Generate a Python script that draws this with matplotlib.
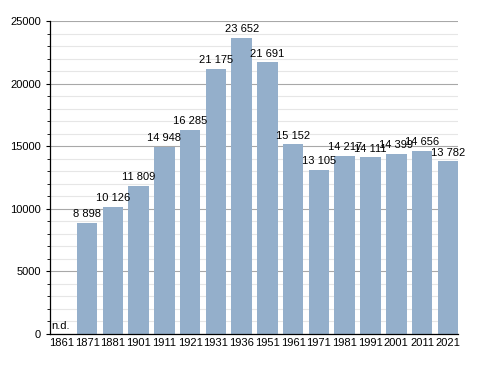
import matplotlib.pyplot as plt
from matplotlib.ticker import MultipleLocator

plt.rcParams['font.family'] = ['Liberation Sans', 'DejaVu Sans']

# Dữ liệu dân số
nam = ['1861', '1871', '1881', '1901', '1911', '1921', '1931', '1936', '1951',
       '1961', '1971', '1981', '1991', '2001', '2011', '2021']
dan_so = [None, 8898, 10126, 11809, 14948, 16285, 21175, 23652, 21691,
          15152, 13105, 14217, 14111, 14399, 14656, 13782]

fig = plt.figure(figsize=(4.88, 3.73), dpi=100)
ax = fig.add_axes([0.1025, 0.1046, 0.8361, 0.8391])

x = list(range(len(nam)))
gia_tri = [v if v is not None else 0 for v in dan_so]
do_rong = 0.795
bars = ax.bar(x, gia_tri, width=do_rong, color='#94afcb', zorder=2)

# Nhãn trên đầu cột
for i, v in enumerate(dan_so):
    if v is None:
        ax.text(i - 0.4, 250, 'n.d.', ha='left', va='bottom', fontsize=8, zorder=3)
        continue
    nhan = f'{v:,}'.replace(',', ' ')
    ax.text(i, v + 300, nhan, ha='center', va='bottom', fontsize=8, zorder=3)

ax.set_xlim(-do_rong / 2 - 0.04, len(nam) - 1 + do_rong / 2)
ax.set_ylim(0, 25000)
ax.set_xticks(x)
ax.set_xticklabels(nam, fontsize=8)
ax.yaxis.set_major_locator(MultipleLocator(5000))
ax.yaxis.set_minor_locator(MultipleLocator(1000))
ax.tick_params(axis='y', labelsize=8, direction='out', length=3, width=0.8)
ax.tick_params(axis='y', which='minor', length=2, width=0.6)
ax.tick_params(axis='x', length=0, pad=3)

# Lưới nền
ax.grid(axis='y', which='major', color='#a8a8a8', linewidth=0.8, zorder=0)
ax.grid(axis='y', which='minor', color='#e6e6e6', linewidth=0.8, zorder=0)
ax.set_axisbelow(True)

for s in ['top', 'right']:
    ax.spines[s].set_visible(False)
ax.spines['left'].set_linewidth(0.9)
ax.spines['bottom'].set_linewidth(0.9)

fig.savefig('out.png', dpi=100)
